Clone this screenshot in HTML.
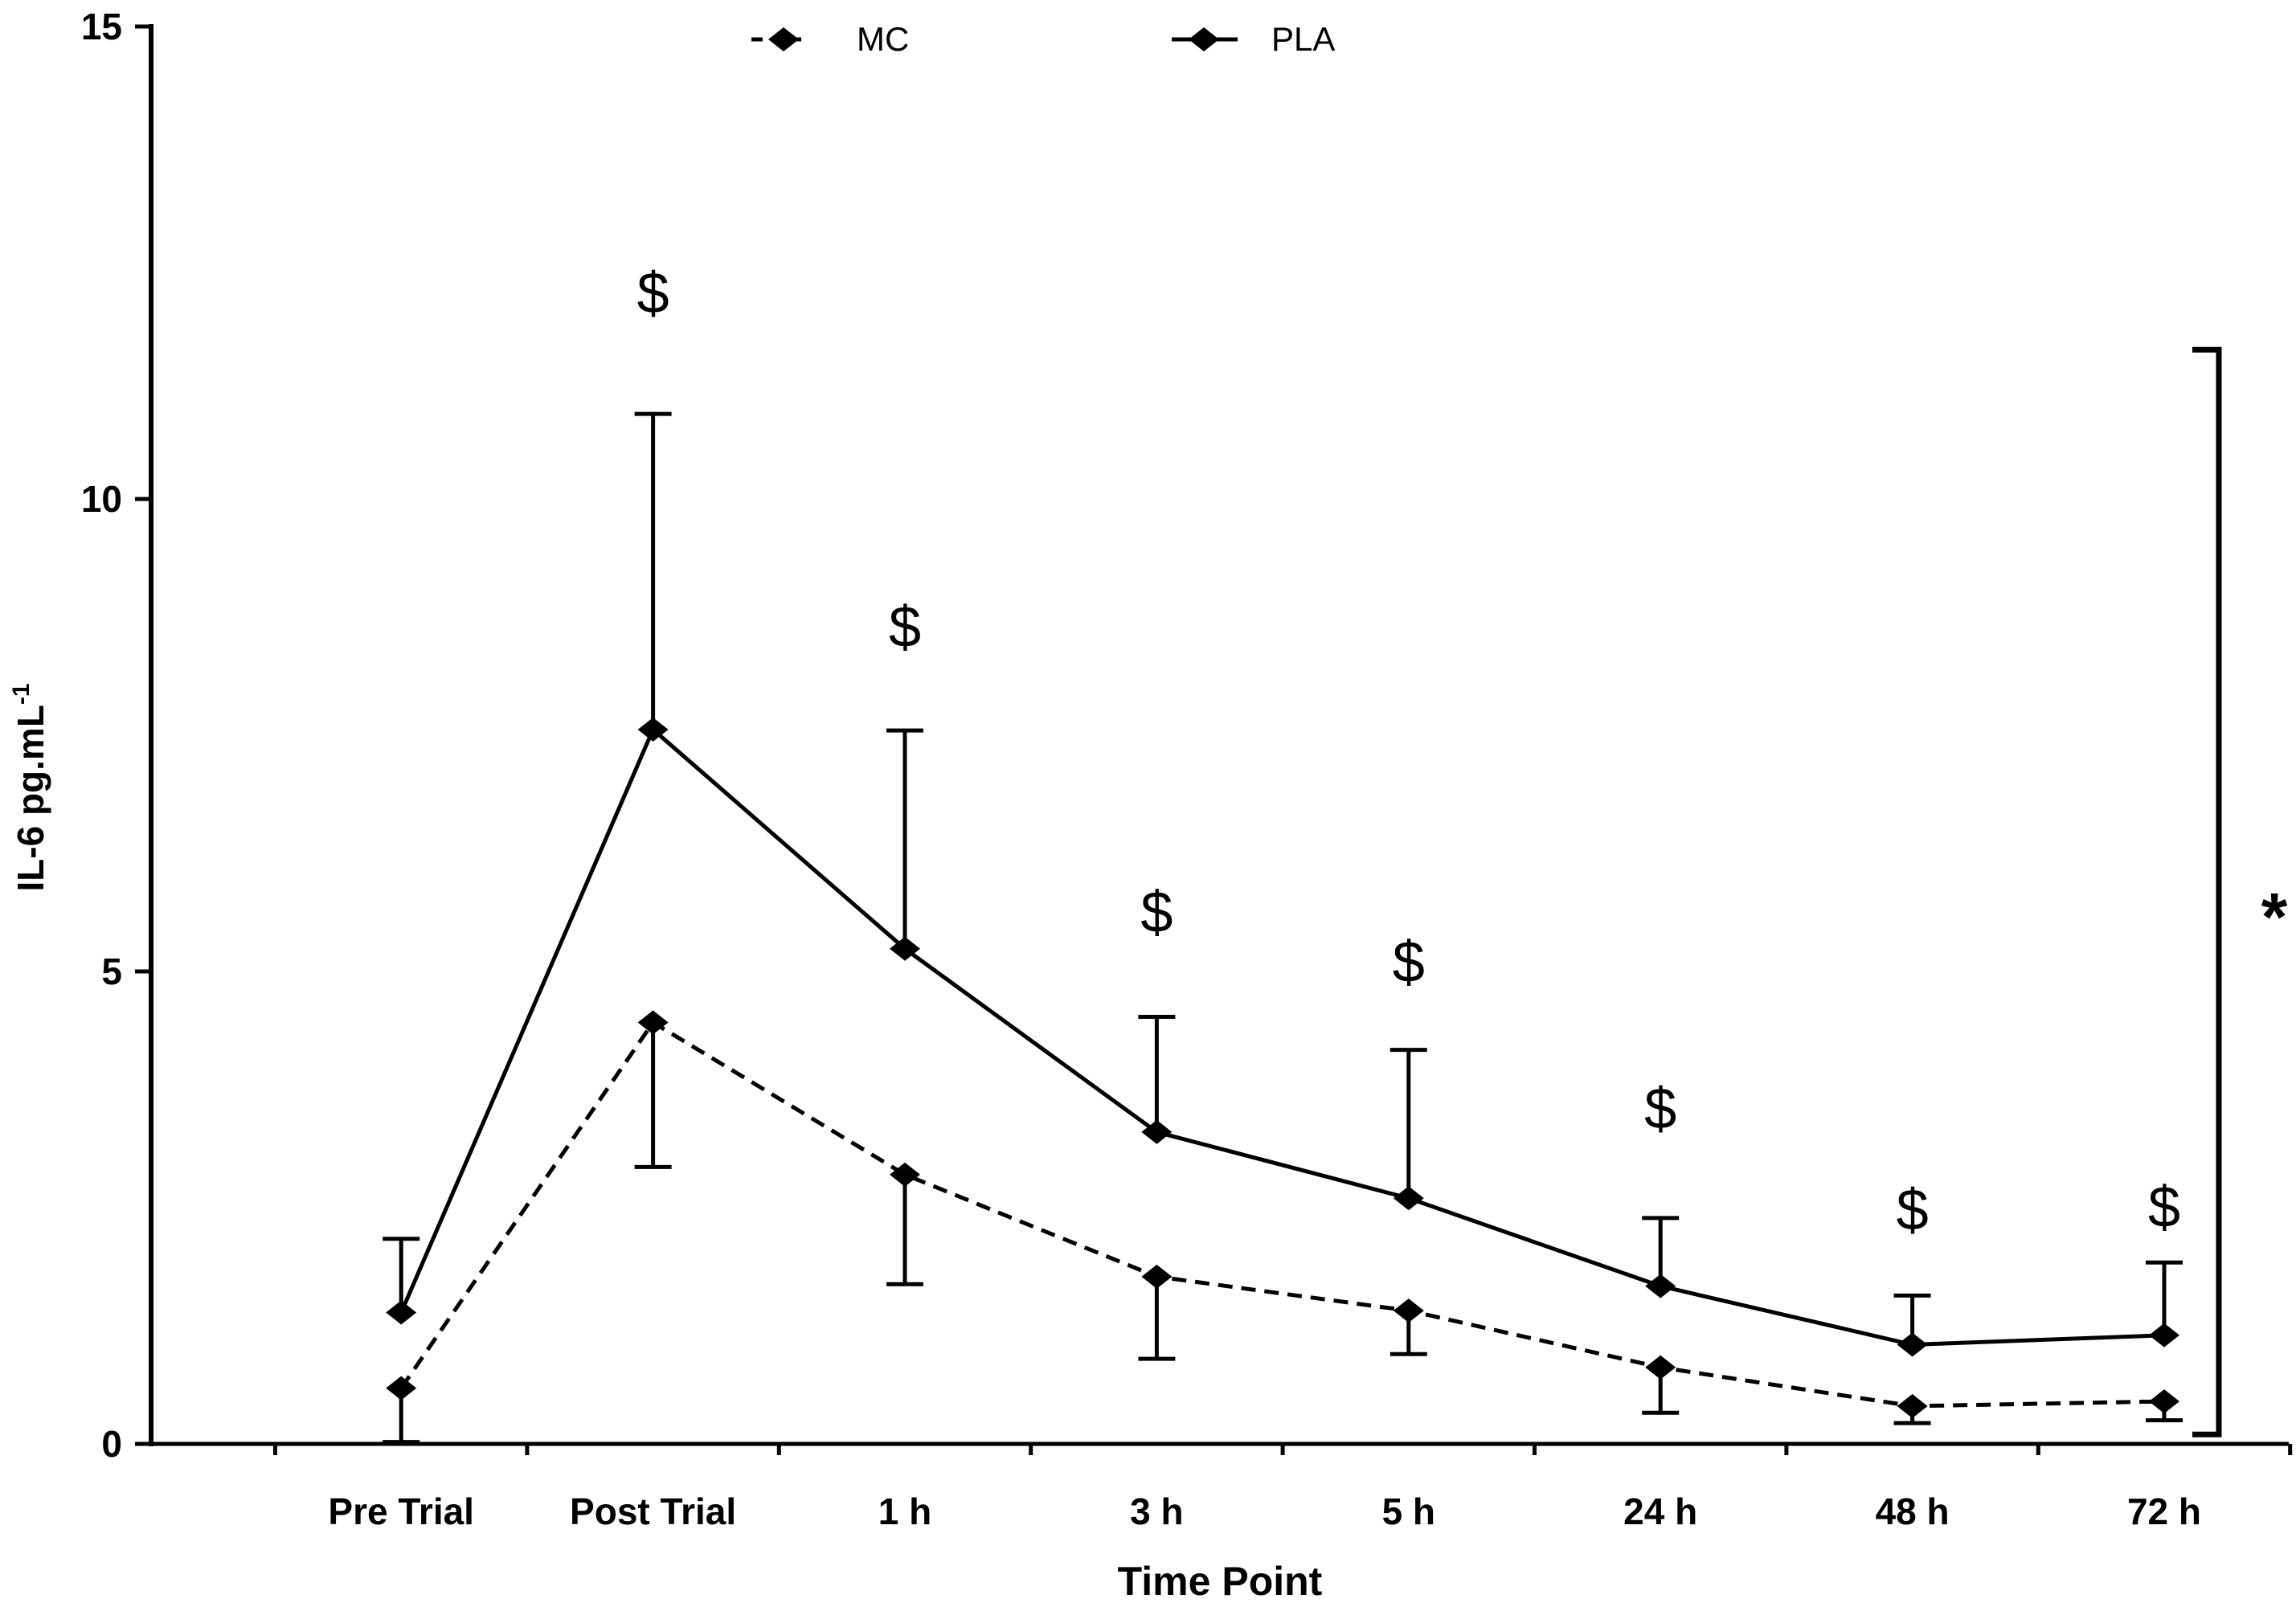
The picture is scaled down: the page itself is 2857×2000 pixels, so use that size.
<!DOCTYPE html>
<html><head><meta charset="utf-8"><style>
html,body{margin:0;padding:0;background:#fff;}
svg{display:block;font-family:"Liberation Sans",sans-serif;}
</style></head><body>
<svg id="chart" width="2857" height="2000" viewBox="0 0 2857 2000" xmlns="http://www.w3.org/2000/svg"></svg>
<script>
const categories = ["Pre Trial","Post Trial","1 h","3 h","5 h","24 h","48 h","72 h"];
const plaValues = [1.39,7.56,5.24,3.30,2.60,1.67,1.05,1.15];
const plaUpper = [2.17,10.9,7.55,4.52,4.17,2.39,1.57,1.92];
const mcValues = [0.59,4.46,2.85,1.77,1.41,0.81,0.40,0.45];
const mcLower = [0.02,2.93,1.69,0.90,0.95,0.33,0.22,0.25];
const sigMarks = [null,12.18,8.65,5.63,5.10,3.55,2.48,2.51];
const yTicks = [0,5,10,15];
const bracketRange = [0.1,11.58];

const svg = document.getElementById('chart');
const NS = 'http://www.w3.org/2000/svg';
const x0 = 188, tickStart = 342.5, step = 313.4, xEnd = 2848;
const yBase = 1797, yTop = 33;
function yScale(v){ return yBase - v*(yBase-yTop)/15; }
function xScale(i){ return tickStart + step*(i+0.5); }
function mk(tag, attrs, parent){
  const e = document.createElementNS(NS, tag);
  for (const k in attrs) e.setAttribute(k, attrs[k]);
  (parent||svg).appendChild(e);
  return e;
}
function diamond(cx, cy, parent){
  return mk('polygon',{points:`${cx},${cy-15} ${cx+19},${cy} ${cx},${cy+15} ${cx-19},${cy}`,fill:'#000'},parent);
}

const yAxis = mk('line',{x1:x0,y1:yTop-3,x2:x0,y2:yBase+3,stroke:'#000','stroke-width':6});


const xAxis = mk('line',{x1:x0-3,y1:yBase,x2:xEnd,y2:yBase,stroke:'#000','stroke-width':5});



yTicks.forEach(v=>{
  const y = yScale(v);
  const t = mk('line',{x1:168,y1:y,x2:x0,y2:y,stroke:'#000','stroke-width':5});
  
  
  const l = mk('text',{x:152,y:y+16,'text-anchor':'end','font-size':46,'font-weight':'bold',fill:'#000'});
  l.textContent = v;
  
  
});
for (let i=0;i<=categories.length;i++){
  const x = tickStart + step*i;
  const t = mk('line',{x1:x,y1:yBase,x2:x,y2:yBase+14,stroke:'#000','stroke-width':5});
  
  
}
categories.forEach((c,i)=>{
  const l = mk('text',{x:xScale(i),y:1897,'text-anchor':'middle','font-size':46,'font-weight':'bold',fill:'#000'});
  l.textContent = c;
  
  
});

const xt = mk('text',{x:1518,y:1985,'text-anchor':'middle','font-size':50,'font-weight':'bold',fill:'#000'});
xt.textContent = 'Time Point';


const yt = mk('text',{x:0,y:0,'text-anchor':'middle','font-size':46,'font-weight':'bold',fill:'#000',transform:'translate(54,980) rotate(-90)'});
yt.innerHTML = 'IL-6 pg.mL<tspan dy="-18" font-size="30">-1</tspan>';



plaValues.forEach((v,i)=>{
  const x = xScale(i);
  const g = mk('g',{});
  
  
  mk('line',{x1:x,y1:yScale(v),x2:x,y2:yScale(plaUpper[i]),stroke:'#000','stroke-width':5},g);
  mk('line',{x1:x-23,y1:yScale(plaUpper[i]),x2:x+23,y2:yScale(plaUpper[i]),stroke:'#000','stroke-width':5},g);
});
mcValues.forEach((v,i)=>{
  const x = xScale(i);
  const g = mk('g',{});
  
  
  mk('line',{x1:x,y1:yScale(v),x2:x,y2:yScale(mcLower[i]),stroke:'#000','stroke-width':5},g);
  mk('line',{x1:x-23,y1:yScale(mcLower[i]),x2:x+23,y2:yScale(mcLower[i]),stroke:'#000','stroke-width':5},g);
});

const plaLine = mk('polyline',{points:plaValues.map((v,i)=>xScale(i)+','+yScale(v)).join(' '),fill:'none',stroke:'#000','stroke-width':5});


const mcLine = mk('polyline',{points:mcValues.map((v,i)=>xScale(i)+','+yScale(v)).join(' '),fill:'none',stroke:'#000','stroke-width':5,'stroke-dasharray':'18 11'});



plaValues.forEach((v,i)=>{
  const d = diamond(xScale(i), yScale(v));
  
  
});
mcValues.forEach((v,i)=>{
  const d = diamond(xScale(i), yScale(v));
  
  
});

sigMarks.forEach((v,i)=>{
  if (v===null) return;
  const t = mk('text',{x:xScale(i),y:yScale(v)+25,'text-anchor':'middle','font-size':72,fill:'#000'});
  t.textContent = '$';
  
  
});

const br = mk('polyline',{points:`2728,${yScale(bracketRange[1])} 2761,${yScale(bracketRange[1])} 2761,${yScale(bracketRange[0])} 2728,${yScale(bracketRange[0])}`,fill:'none',stroke:'#000','stroke-width':7});


const star = mk('text',{x:2830,y:1170,'text-anchor':'middle','font-size':84,'font-weight':'bold',fill:'#000'});
star.textContent = '*';



const lg1 = mk('g',{});


mk('line',{x1:935,y1:49,x2:1005,y2:49,stroke:'#000','stroke-width':5,'stroke-dasharray':'14 10'},lg1);
diamond(975,49,lg1);
const lt1 = mk('text',{x:1066,y:63,'font-size':42,fill:'#000'},lg1);
lt1.textContent = 'MC';
const lg2 = mk('g',{});


mk('line',{x1:1458,y1:49,x2:1540,y2:49,stroke:'#000','stroke-width':5},lg2);
diamond(1498,49,lg2);
const lt2 = mk('text',{x:1582,y:63,'font-size':42,fill:'#000'},lg2);
lt2.textContent = 'PLA';
</script>
</body></html>
